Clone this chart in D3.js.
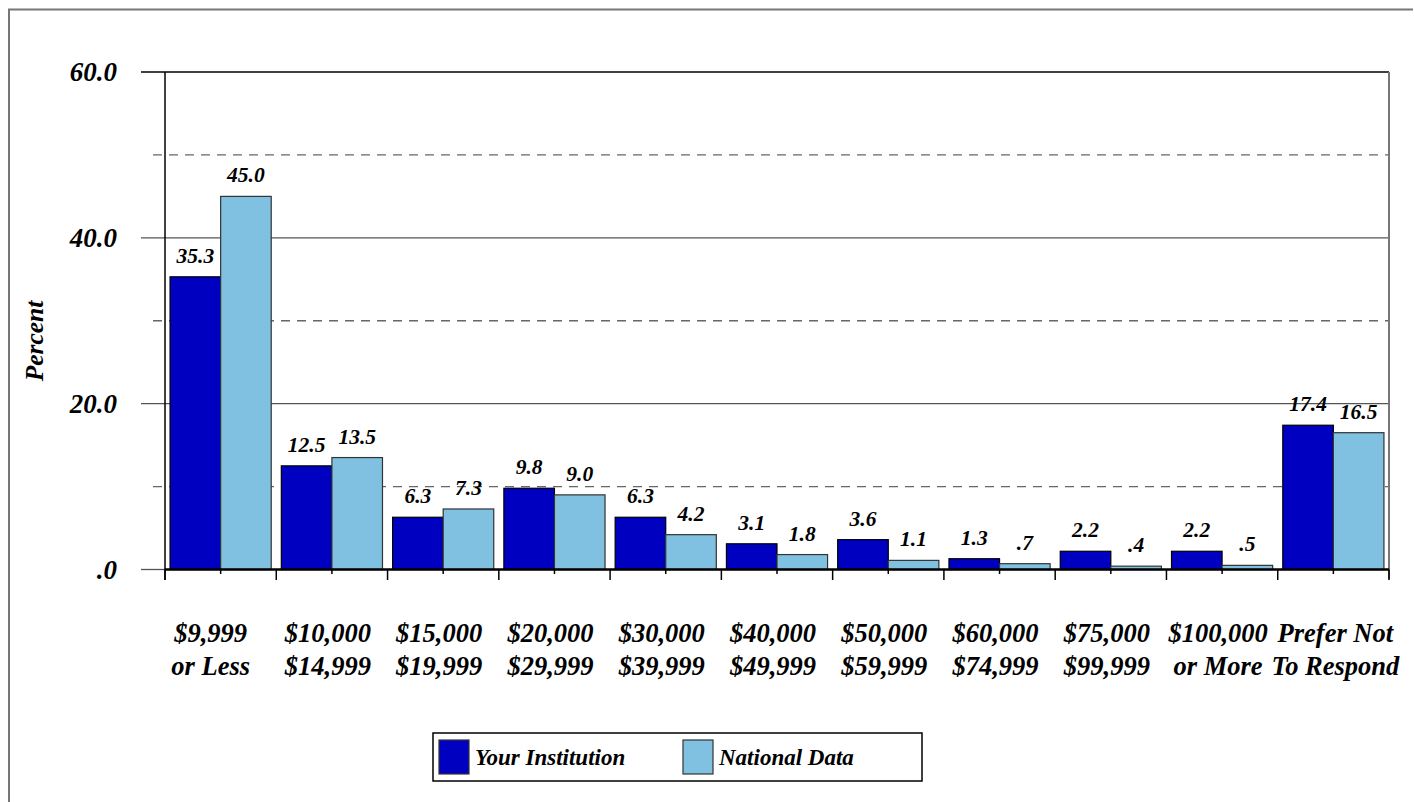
<!DOCTYPE html>
<html><head><meta charset="utf-8">
<script src="https://cdn.jsdelivr.net/npm/d3@7"></script>
<style>body{margin:0;background:#fff}svg{display:block}text{font-family:"Liberation Serif","DejaVu Serif";font-weight:bold;font-style:italic;fill:#000}</style>
</head><body><svg id="c" width="1414" height="802"></svg>
<script>
const categories = [["$9,999","or Less"],["$10,000","$14,999"],["$15,000","$19,999"],["$20,000","$29,999"],["$30,000","$39,999"],["$40,000","$49,999"],["$50,000","$59,999"],["$60,000","$74,999"],["$75,000","$99,999"],["$100,000","or More"],["Prefer Not","To Respond"]];
const yourInstitution = [35.3,12.5,6.3,9.8,6.3,3.1,3.6,1.3,2.2,2.2,17.4];
const nationalData = [45.0,13.5,7.3,9.0,4.2,1.8,1.1,0.7,0.4,0.5,16.5];
const seriesNames = ["Your Institution","National Data"];
const colors = ["#0000C0","#80C0E0"];
const yTicks = [0,20,40,60];
const yMinor = [10,30,50];

const svg = d3.select("#c");
const L=165,R=1389,T=72,B=569.5;
svg.append("path").attr("d","M9,802V9.5H1413").attr("fill","none").attr("stroke","#777").attr("stroke-width",2);

const x = d3.scaleBand().domain(d3.range(categories.length)).range([L,R]).paddingInner(0).paddingOuter(0);
const xs = d3.scaleBand().domain([0,1]).range([0,x.bandwidth()]).paddingInner(0).paddingOuter(0.1);
const y = d3.scaleLinear().domain([0,60]).range([B,T]);

svg.append("g").selectAll("line").data(yMinor).join("line")
  .attr("x1",153).attr("x2",R).attr("y1",d=>y(d)).attr("y2",d=>y(d))
  .attr("stroke","#666").attr("stroke-width",1.3).attr("stroke-dasharray","9,7");
svg.append("g").selectAll("line").data(yTicks.filter(d=>d>0)).join("line")
  .attr("x1",141).attr("x2",R).attr("y1",d=>y(d)).attr("y2",d=>y(d))
  .attr("stroke",d=>d===60?"#000":"#555").attr("stroke-width",1.3);
svg.append("line").attr("x1",141).attr("x2",L).attr("y1",y(0)).attr("y2",y(0)).attr("stroke","#555").attr("stroke-width",1.3);

svg.append("line").attr("x1",R).attr("x2",R).attr("y1",T).attr("y2",579).attr("stroke","#777").attr("stroke-width",2);

svg.append("g").selectAll("text").data(yTicks).join("text")
  .attr("x",117).attr("y",d=>y(d)).attr("dy","0.34em").attr("text-anchor","end")
  .style("font-size","27px").text(d=>d3.format(".1f")(d).replace(/^0\./,"."));

svg.append("text").attr("transform","translate(43,341) rotate(-90)").attr("text-anchor","middle")
  .style("font-size","25.5px").text("Percent");

const series=[yourInstitution,nationalData];
const g = svg.append("g");
series.forEach((vals,si)=>{
  g.selectAll(null).data(vals).join("rect")
    .attr("x",(d,i)=>x(i)+xs(si)).attr("width",xs.bandwidth())
    .attr("y",d=>y(d)).attr("height",d=>B-y(d))
    .attr("fill",colors[si]).attr("stroke",si===0?"#000":"#333").attr("stroke-width",1.2);
  g.selectAll(null).data(vals).join("text")
    .attr("x",(d,i)=>x(i)+xs(si)+xs.bandwidth()/2).attr("y",d=>y(d)-14)
    .attr("text-anchor","middle").style("font-size","21.5px")
    .text(d=>d3.format(".1f")(d).replace(/^0\./,"."));
});

svg.append("line").attr("x1",L).attr("x2",L).attr("y1",T).attr("y2",580).attr("stroke","#000").attr("stroke-width",1.5);
svg.append("line").attr("x1",L).attr("x2",R).attr("y1",B).attr("y2",B).attr("stroke","#000").attr("stroke-width",2.5);
const bounds = d3.range(categories.length+1).map(i=>L+i*x.bandwidth());
svg.append("g").selectAll("line").data(bounds).join("line")
  .attr("x1",d=>d).attr("x2",d=>d).attr("y1",B).attr("y2",580).attr("stroke","#000").attr("stroke-width",1.5);
svg.append("g").selectAll("line").data(d3.range(categories.length)).join("line")
  .attr("x1",i=>x(i)+x.bandwidth()/2).attr("x2",i=>x(i)+x.bandwidth()/2).attr("y1",B).attr("y2",574).attr("stroke","#000").attr("stroke-width",1.5);

const cl = svg.append("g").selectAll("text").data(categories).join("text")
  .attr("text-anchor","middle").style("font-size","26.5px");
cl.each(function(d,i){
  const t=d3.select(this);
  const cx=x(i)+x.bandwidth()/2-(i===0?10:i===10?-2:4);
  d.forEach((line,k)=>t.append("tspan").attr("x",cx).attr("y",642+k*33).text(line));
});

const lg = svg.append("g");
lg.append("rect").attr("x",433).attr("y",733).attr("width",489).attr("height",48).attr("fill","#fff").attr("stroke","#000").attr("stroke-width",1.5);
const lx=[439,683];
seriesNames.forEach((n,i)=>{
  lg.append("rect").attr("x",lx[i]).attr("y",740).attr("width",30).attr("height",34).attr("fill",colors[i]).attr("stroke","#333").attr("stroke-width",1.2);
  lg.append("text").attr("x",lx[i]+36).attr("y",765).style("font-size","23px").text(n);
});
</script></body></html>
